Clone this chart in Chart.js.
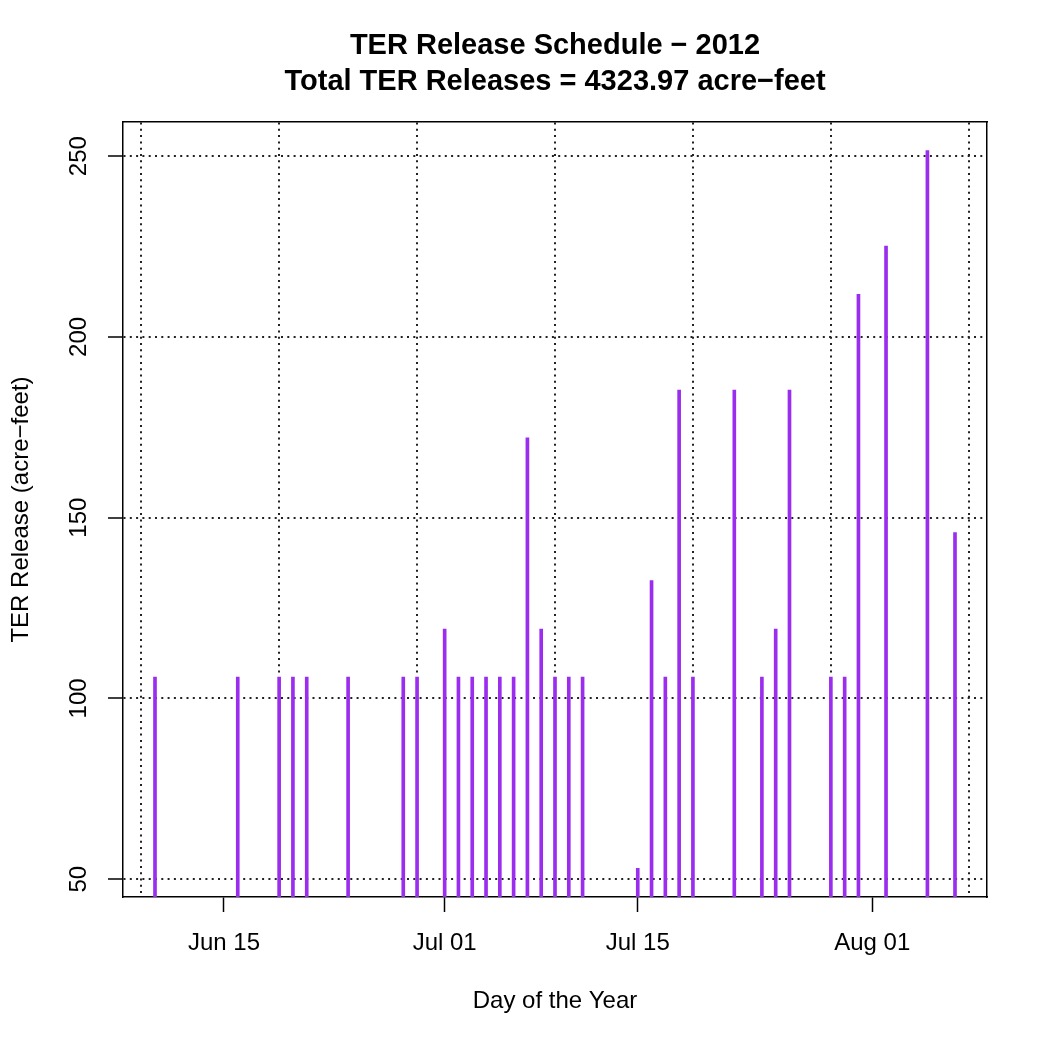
<!DOCTYPE html>
<html>
<head>
<meta charset="utf-8">
<script src="https://cdn.jsdelivr.net/npm/chart.js@4.4.1/dist/chart.umd.min.js"></script>
<style>
  html, body { margin: 0; padding: 0; background: #ffffff; }
  #wrap { width: 1050px; height: 1050px; }
</style>
</head>
<body>
<div id="wrap"><canvas id="c" width="1050" height="1050"></canvas></div>
<script>
// ---- data ----
const releaseDates = [
  '2012-06-10','2012-06-16','2012-06-19','2012-06-20','2012-06-21','2012-06-24',
  '2012-06-28','2012-06-29','2012-07-01','2012-07-02','2012-07-03','2012-07-04',
  '2012-07-05','2012-07-06','2012-07-07','2012-07-08','2012-07-09','2012-07-10',
  '2012-07-11','2012-07-15','2012-07-16','2012-07-17','2012-07-18','2012-07-19',
  '2012-07-22','2012-07-24','2012-07-25','2012-07-26','2012-07-29','2012-07-30',
  '2012-07-31','2012-08-02','2012-08-05','2012-08-07'
];
const releaseValues = [
  105.9, 105.9, 105.9, 105.9, 105.9, 105.9,
  105.9, 105.9, 119.2, 105.9, 105.9, 105.9,
  105.9, 105.9, 172.1, 119.2, 105.9, 105.9,
  105.9, 53.0, 132.6, 105.9, 185.3, 105.9,
  185.3, 105.9, 119.2, 185.3, 105.9, 105.9,
  211.8, 225.1, 251.5, 145.9
];
const xTickDates = ['2012-06-15','2012-07-01','2012-07-15','2012-08-01'];
const xTickLabels = ['Jun 15','Jul 01','Jul 15','Aug 01'];
const xGridDates = ['2012-06-09','2012-06-19','2012-06-29','2012-07-09','2012-07-19','2012-07-29','2012-08-08'];
const yTickValues = [50, 100, 150, 200, 250];
const titleLines = ['TER Release Schedule \u2212 2012', 'Total TER Releases = 4323.97 acre\u2212feet'];
const xAxisTitle = 'Day of the Year';
const yAxisTitle = 'TER Release (acre\u2212feet)';

// ---- helpers ----
function dayNum(s) {
  const p = s.split('-').map(Number);
  return Date.UTC(p[0], p[1] - 1, p[2]) / 86400000;
}
const xs = releaseDates.map(dayNum);
const xMinData = Math.min.apply(null, xs), xMaxData = Math.max.apply(null, xs);
const xExt = (xMaxData - xMinData) * 0.04;
const yMinData = Math.min.apply(null, releaseValues), yMaxData = Math.max.apply(null, releaseValues);
const yExt = (yMaxData - yMinData) * 0.04;

const tickDays = xTickDates.map(dayNum);
const gridDays = xGridDates.map(dayNum);
const FONT = "'Liberation Sans', Arial, Helvetica, sans-serif";
const BAR = '#9B2DEE';

new Chart(document.getElementById('c'), {
  type: 'bar',
  data: {
    datasets: [{
      data: xs.map((x, i) => ({ x: x, y: releaseValues[i] })),
      backgroundColor: BAR,
      borderWidth: 0,
      barThickness: 3,
      grouped: false,
      xAxisID: 'x',
      yAxisID: 'y'
    }]
  },
  options: {
    responsive: false,
    devicePixelRatio: 1,
    animation: false,
    layout: { padding: { left: 0, right: 63, top: 0, bottom: 0 } },
    plugins: {
      legend: { display: false },
      tooltip: { enabled: false },
      title: {
        display: true,
        fullSize: false,
        text: titleLines,
        color: '#000',
        font: { family: FONT, size: 29, weight: 'bold', lineHeight: 36 / 29 },
        padding: { top: 28, bottom: 22 }
      }
    },
    scales: {
      x: {
        type: 'linear',
        position: 'bottom',
        offset: false,
        min: xMinData - xExt,
        max: xMaxData + xExt,
        afterBuildTicks: s => { s.ticks = tickDays.map(v => ({ value: v })); },
        ticks: {
          autoSkip: false,
          maxRotation: 0,
          minRotation: 0,
          color: '#000',
          font: { family: FONT, size: 24 },
          padding: 16.6,
          callback: v => xTickLabels[tickDays.indexOf(v)]
        },
        grid: {
          offset: false,
          drawOnChartArea: false,
          drawTicks: true,
          tickLength: 15,
          tickColor: '#000',
          tickWidth: 1.5
        },
        border: { display: true, color: '#000', width: 1.5 },
        title: {
          display: true,
          text: xAxisTitle,
          color: '#000',
          font: { family: FONT, size: 24 },
          padding: { top: 12.6, bottom: 34.6 }
        }
      },
      xgrid: {
        type: 'linear',
        position: 'top',
        offset: false,
        z: 1,
        min: xMinData - xExt,
        max: xMaxData + xExt,
        afterBuildTicks: s => { s.ticks = gridDays.map(v => ({ value: v })); },
        ticks: { display: false },
        grid: {
          offset: false,
          drawOnChartArea: true,
          drawTicks: false,
          color: '#222',
          lineWidth: 2
        },
        border: { display: true, color: '#000', width: 1.5, dash: [2, 4.3] }
      },
      y: {
        type: 'linear',
        position: 'left',
        z: 1,
        min: yMinData - yExt,
        max: yMaxData + yExt,
        afterBuildTicks: s => { s.ticks = yTickValues.map(v => ({ value: v })); },
        ticks: {
          autoSkip: false,
          minRotation: 90,
          maxRotation: 90,
          crossAlign: 'center',
          color: '#000',
          font: { family: FONT, size: 24 },
          padding: 9,
          callback: v => String(v)
        },
        grid: {
          drawOnChartArea: true,
          drawTicks: true,
          tickLength: 15,
          color: '#222',
          lineWidth: 2,
          tickColor: '#000',
          tickWidth: 1.5,
          tickBorderDash: []
        },
        border: { display: true, color: '#000', width: 1.5, dash: [2, 4.3] },
        title: {
          display: true,
          text: yAxisTitle,
          color: '#000',
          font: { family: FONT, size: 24 },
          padding: { top: 6.6, bottom: 25.8 }
        }
      },
      yright: {
        type: 'linear',
        position: 'right',
        min: 0,
        max: 1,
        ticks: { display: false },
        grid: { display: false, drawTicks: false },
        border: { display: true, color: '#000', width: 1.5 }
      }
    }
  }
});
</script>
</body>
</html>
